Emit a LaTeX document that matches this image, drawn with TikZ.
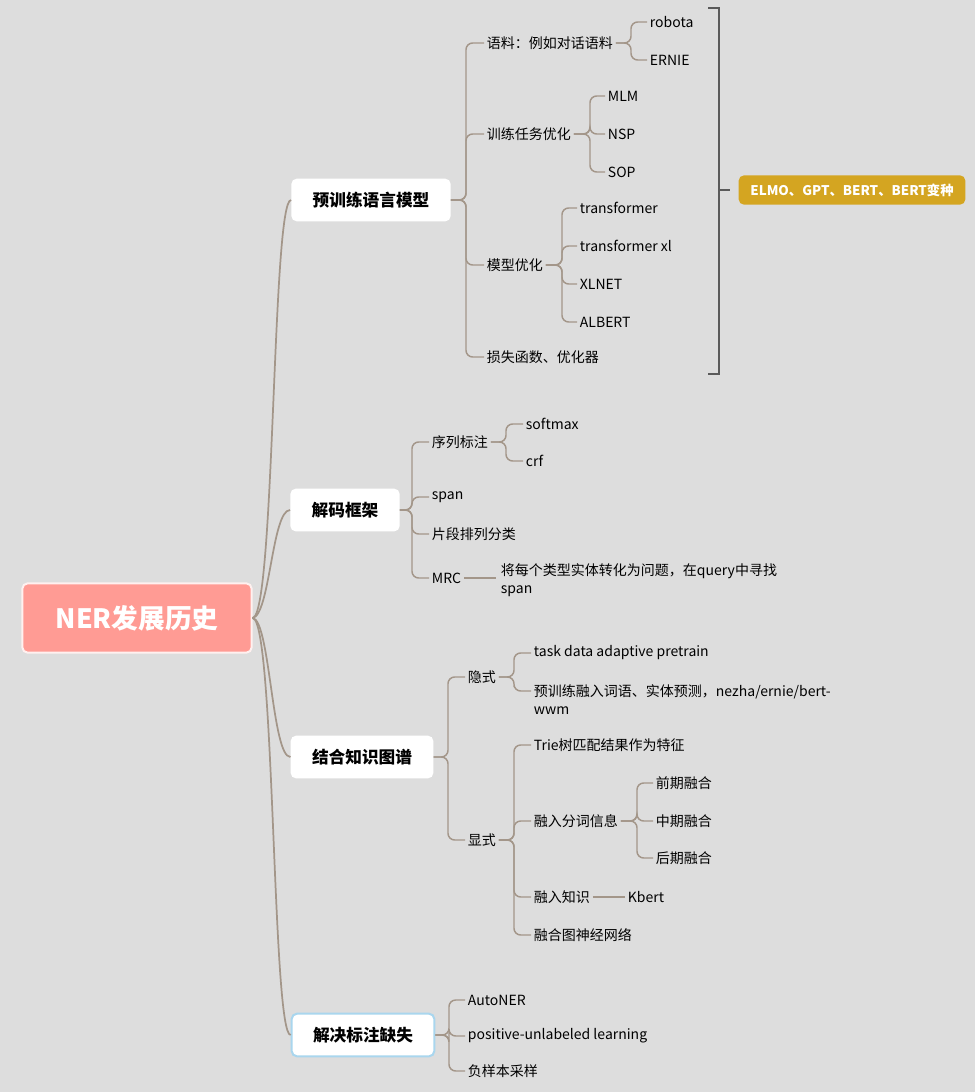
\documentclass[tikz,border=0pt]{standalone}
\usepackage{fontspec}
\setmainfont{Noto Sans CJK SC}
\usetikzlibrary{positioning}
\definecolor{bgc}{HTML}{DDDDDD}
\definecolor{linec}{HTML}{A39689}
\definecolor{rootc}{HTML}{FF9B94}
\definecolor{goldc}{HTML}{D4A521}
\definecolor{bluec}{HTML}{A9D6EE}
\definecolor{brkc}{HTML}{5A5A5A}
\begin{document}
\begin{tikzpicture}[
        x=0.75pt, y=-0.75pt,
        every node/.style={font=\fontsize{10.5}{13}\selectfont, inner sep=2pt},
        leaf/.style={anchor=west, align=left}, % plain text child
        topic/.style={rectangle, rounded corners=4pt, fill=white, minimum height=32pt, inner xsep=16pt, font=\fontsize{12.5}{15}\selectfont\bfseries},
        br/.style={draw=linec, line width=1.1pt, rounded corners=5pt}, % branch line
        curve/.style={draw=linec, line width=1.3pt}
    ]
    \fill[bgc] (0,0) rectangle (975,1092);
    \useasboundingbox (0,0) rectangle (975,1092);
    % --- root and main topics ---
    \node (root) [rectangle, rounded corners=4pt, fill=rootc, draw=white!85!rootc, line width=1.5pt, minimum width=172pt, minimum height=52pt, text=white, font=\fontsize{20}{24}\selectfont\bfseries] at (137,618) {NER发展历史};
    \node (pre) [topic] at (371,200) {预训练语言模型};
    \node (dec) [topic] at (345,510) {解码框架};
    \node (kg) [topic] at (362,757) {结合知识图谱};
    \node (miss) [topic, draw=bluec, line width=1.5pt] at (363,1035) {解决标注缺失};
    \draw[curve] (root.east) .. controls (275,615) and (272,200) .. (pre.west);
    \draw[curve] (root.east) .. controls (270,615) and (272,510) .. (dec.west);
    \draw[curve] (root.east) .. controls (270,620) and (272,757) .. (kg.west);
    \draw[curve] (root.east) .. controls (275,620) and (272,1035) .. (miss.west);
    % --- pretrained language models ---
    \node (corpus) [leaf] at (484,43) {语料：例如对话语料};
    \node (robota) [leaf] at (647,22) {robota};
    \node (ernie) [leaf] at (647,60) {ERNIE};
    \node (task) [leaf] at (484,134) {训练任务优化};
    \node (mlm) [leaf] at (605,96) {MLM};
    \node (nsp) [leaf] at (605,134) {NSP};
    \node (sop) [leaf] at (605,172) {SOP};
    \node (model) [leaf] at (484,265) {模型优化};
    \node (tf) [leaf] at (577,208) {transformer};
    \node (tfxl) [leaf] at (577,246) {transformer xl};
    \node (xlnet) [leaf] at (577,284) {XLNET};
    \node (albert) [leaf] at (577,322) {ALBERT};
    \node (loss) [leaf] at (484,357) {损失函数、优化器};
    \draw[br] (pre.east) -- (466,200) |- (corpus.west);
    \draw[br] (pre.east) -- (466,200) |- (task.west);
    \draw[br] (pre.east) -- (466,200) |- (model.west);
    \draw[br] (pre.east) -- (466,200) |- (loss.west);
    \draw[br] (corpus.east) -- (631,43) |- (robota.west);
    \draw[br] (corpus.east) -- (631,43) |- (ernie.west);
    \draw[br] (task.east) -- (590,134) |- (mlm.west);
    \draw[br] (task.east) -- (590,134) |- (nsp.west);
    \draw[br] (task.east) -- (590,134) |- (sop.west);
    \draw[br] (model.east) -- (562,265) |- (tf.west);
    \draw[br] (model.east) -- (562,265) |- (tfxl.west);
    \draw[br] (model.east) -- (562,265) |- (xlnet.west);
    \draw[br] (model.east) -- (562,265) |- (albert.west);
    \node (sum) [rectangle, rounded corners=4pt, fill=goldc, text=white, minimum width=170pt, minimum height=22pt, font=\fontsize{10}{12}\selectfont\bfseries] at (852,190) {ELMO、GPT、BERT、BERT变种};
    \coordinate (brk) at (719,190);
    \draw[brkc, line width=1.5pt] (708,8) -- (719,8) -- (719,374) -- (708,374);
    \draw[brkc, line width=1.5pt] (brk) -- (730,190);
    % --- decoding frameworks ---
    \node (seq) [leaf] at (429,442) {序列标注};
    \node (softmax) [leaf] at (523,424) {softmax};
    \node (crf) [leaf] at (523,461) {crf};
    \node (span) [leaf] at (429,497) {span};
    \node (seg) [leaf] at (429,534) {片段排列分类};
    \node (mrc) [leaf] at (429,578) {MRC};
    \node (mrcd) [leaf, anchor=north west] at (498,561) {将每个类型实体转化为问题，在query中寻找\\span};
    \draw[br] (dec.east) -- (412,510) |- (seq.west);
    \draw[br] (dec.east) -- (412,510) |- (span.west);
    \draw[br] (dec.east) -- (412,510) |- (seg.west);
    \draw[br] (dec.east) -- (412,510) |- (mrc.west);
    \draw[br] (seq.east) -- (506,442) |- (softmax.west);
    \draw[br] (seq.east) -- (506,442) |- (crf.west);
    \draw[br] (mrc.east) -- (496,578);
    % --- knowledge graphs ---
    \node (impl) [leaf] at (465,677) {隐式};
    \node (tdap) [leaf] at (531,653) {task data adaptive pretrain};
    \node (ptw) [leaf, anchor=north west] at (531,682) {预训练融入词语、实体预测，nezha/ernie/bert-\\wwm};
    \node (expl) [leaf] at (465,840) {显式};
    \node (trie) [leaf] at (531,745) {Trie树匹配结果作为特征};
    \node (wseg) [leaf] at (531,821) {融入分词信息};
    \node (early) [leaf] at (653,783) {前期融合};
    \node (mid) [leaf] at (653,821) {中期融合};
    \node (late) [leaf] at (653,858) {后期融合};
    \node (know) [leaf] at (531,897) {融入知识};
    \node (kbert) [leaf] at (625,897) {Kbert};
    \node (gnn) [leaf] at (531,935) {融合图神经网络};
    \draw[br] (kg.east) -- (448,757) |- (impl.west);
    \draw[br] (kg.east) -- (448,757) |- (expl.west);
    \draw[br] (impl.east) -- (514,677) |- (tdap.west);
    \draw[br] (impl.east) -- (514,677) |- (514,691) -- (531,691);
    \draw[br] (expl.east) -- (514,840) |- (trie.west);
    \draw[br] (expl.east) -- (514,840) |- (wseg.west);
    \draw[br] (expl.east) -- (514,840) |- (know.west);
    \draw[br] (expl.east) -- (514,840) |- (gnn.west);
    \draw[br] (wseg.east) -- (637,821) |- (early.west);
    \draw[br] (wseg.east) -- (637,821) |- (mid.west);
    \draw[br] (wseg.east) -- (637,821) |- (late.west);
    \draw[br] (know.east) -- (kbert.west);
    % --- missing labels ---
    \node (auto) [leaf] at (465,1000) {AutoNER};
    \node (pu) [leaf] at (465,1036) {positive-unlabeled learning};
    \node (neg) [leaf] at (465,1071) {负样本采样};
    \draw[br] (miss.east) -- (449,1035) |- (auto.west);
    \draw[br] (miss.east) -- (449,1035) |- (pu.west);
    \draw[br] (miss.east) -- (449,1035) |- (neg.west);
\end{tikzpicture}
\end{document}
